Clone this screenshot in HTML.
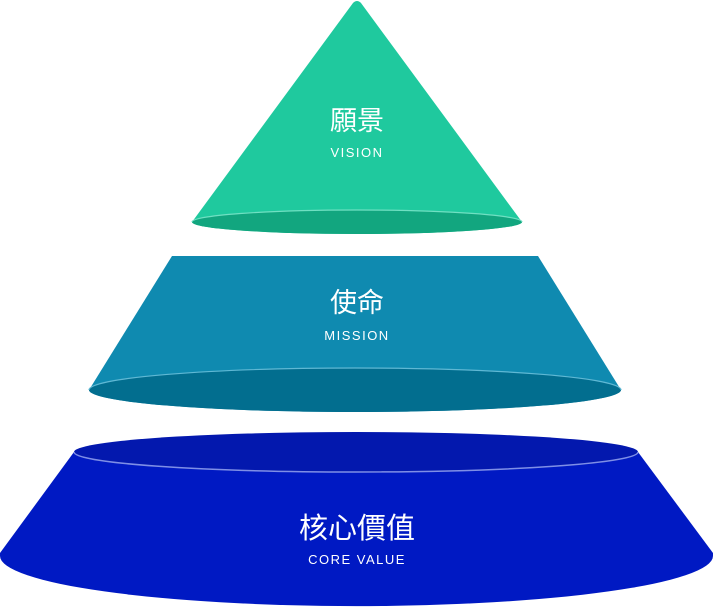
<!DOCTYPE html>
<html><head><meta charset="utf-8"><style>
html,body{margin:0;padding:0;background:#fff;}
svg{display:block}
.z{font-family:"Liberation Sans","Noto Sans CJK TC",sans-serif;fill:#fff;text-anchor:middle}
</style></head><body>
<svg width="713" height="608" viewBox="0 0 713 608" xmlns="http://www.w3.org/2000/svg">
<!-- top -->
<path d="M192,222 L353,3 Q357,-1 361,3 L522,222 A165,12 0 0 1 192,222 Z" fill="#1fc99e"/>
<ellipse cx="357" cy="222" rx="165" ry="12" fill="#12a67f"/>
<path d="M192,222 A165,12 0 0 1 522,222" fill="none" stroke="#6fe0c2" stroke-width="1.2"/>
<text class="z" x="357" y="130" font-size="27">願景</text>
<text class="z" x="357" y="157" font-size="13" letter-spacing="1.5">VISION</text>
<!-- middle -->
<path d="M172,256 L538,256 L621,390 A266,22 0 0 1 89,390 Z" fill="#0f8ab0"/>
<ellipse cx="355" cy="390" rx="266" ry="22" fill="#026e8f"/>
<path d="M89,390 A266,22 0 0 1 621,390" fill="none" stroke="#5fb8d4" stroke-width="1.2"/>
<text class="z" x="357" y="312" font-size="27">使命</text>
<text class="z" x="357" y="340" font-size="13" letter-spacing="1.5">MISSION</text>
<!-- bottom -->
<path d="M74,452 L638,452 L713,553 L713,556 A356,50 0 0 1 0,556 L0,553 Z" fill="#0019c3"/>
<ellipse cx="356" cy="452" rx="282" ry="20" fill="#0318ae"/>
<path d="M74,452 A282,20 0 0 0 638,452" fill="none" stroke="#7f8fe6" stroke-width="1.5"/>
<text class="z" x="357" y="538" font-size="29">核心價值</text>
<text class="z" x="357" y="564" font-size="13" letter-spacing="1.5">CORE VALUE</text>
</svg>
</body></html>
